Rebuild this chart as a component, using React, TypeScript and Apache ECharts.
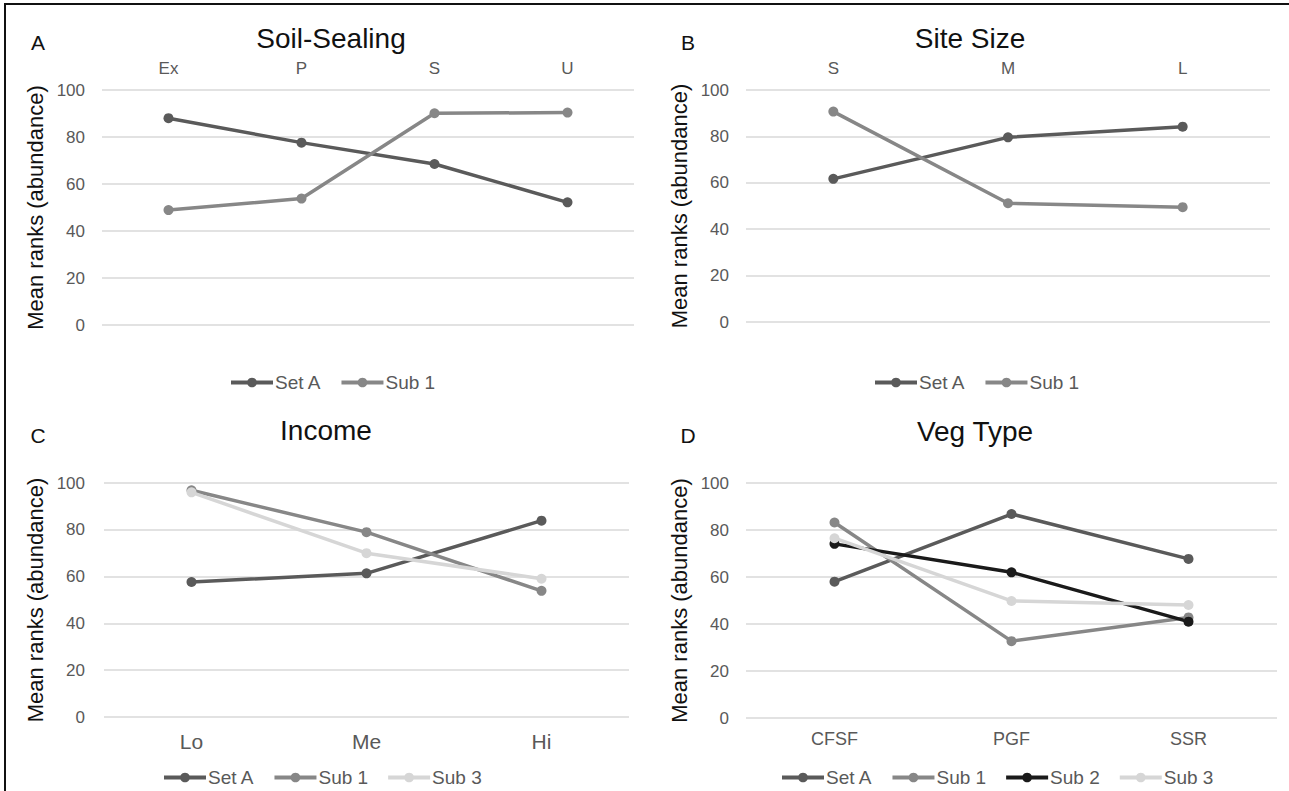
import React, { useEffect, useRef } from "react";
import * as echarts from "echarts";

const soilCats = ["Ex", "P", "S", "U"];
const soilSetA = [88, 77.6, 68.5, 52.2];
const soilSub1 = [48.9, 53.8, 90.1, 90.4];

const sizeCats = ["S", "M", "L"];
const sizeSetA = [61.7, 79.6, 84.2];
const sizeSub1 = [90.7, 51.2, 49.5];

const incomeCats = ["Lo", "Me", "Hi"];
const incomeSetA = [57.7, 61.4, 83.9];
const incomeSub1 = [96.9, 79, 53.9];
const incomeSub3 = [96, 70, 59.1];

const vegCats = ["CFSF", "PGF", "SSR"];
const vegSetA = [58, 86.8, 67.7];
const vegSub1 = [83.2, 32.7, 42.8];
const vegSub2 = [74.1, 62, 41];
const vegSub3 = [76.5, 49.8, 48.1];

const yTicks = { min: 0, max: 100, interval: 20 };

const COLORS: Record<string, string> = {
  "Set A": "#5a5a5a",
  "Sub 1": "#878787",
  "Sub 2": "#1a1a1a",
  "Sub 3": "#d6d6d6",
};

const FONT = "'Liberation Sans', Arial, sans-serif";

export default function App() {
  const ref = useRef<HTMLDivElement>(null);
  useEffect(() => {
    document.body.style.margin = "0";
    const chart = echarts.init(ref.current!, undefined, { renderer: "svg" });

    const grids = [
      { left: 102, top: 90, width: 532, height: 235 },
      { left: 746, top: 90, width: 524, height: 232 },
      { left: 104, top: 483, width: 525, height: 234 },
      { left: 746, top: 483, width: 531, height: 235 },
    ];
    const cats = [soilCats, sizeCats, incomeCats, vegCats];
    const xFont = [17, 17, 21, 18];
    const xMargin = [13, 13, 14, 12];

    const mkSeries = (name: string, data: number[], idx: number) => ({
      type: "line",
      name,
      data,
      xAxisIndex: idx,
      yAxisIndex: idx,
      symbol: "circle",
      symbolSize: 10,
      lineStyle: { width: 3.5, color: COLORS[name] },
      itemStyle: { color: COLORS[name] },
      z: 3,
    });

    const option: any = {
      animation: false,
      backgroundColor: "#ffffff",
      textStyle: { fontFamily: FONT },
      title: [
        { text: "Soil-Sealing", left: 326, top: 19, textAlign: "center" },
        { text: "Site Size", left: 965, top: 19, textAlign: "center" },
        { text: "Income", left: 321, top: 411, textAlign: "center" },
        { text: "Veg Type", left: 970, top: 412, textAlign: "center" },
      ].map((t) => ({
        ...t,
        textStyle: { fontSize: 28, fontWeight: "normal", color: "#111", fontFamily: FONT },
      })),
      grid: grids,
      xAxis: grids.map((_, i) => ({
        type: "category",
        gridIndex: i,
        data: cats[i],
        position: i < 2 ? "top" : "bottom",
        boundaryGap: true,
        axisLine: { show: false },
        axisTick: { show: false },
        axisLabel: { color: "#595959", fontSize: xFont[i], margin: xMargin[i], fontFamily: FONT },
        splitLine: { show: false },
      })),
      yAxis: grids.map((_, i) => ({
        type: "value",
        gridIndex: i,
        min: yTicks.min,
        max: yTicks.max,
        interval: yTicks.interval,
        name: "Mean ranks (abundance)",
        nameLocation: "middle",
        nameGap: i === 2 ? 58 : 56,
        nameTextStyle: { fontSize: 22, color: "#111", fontFamily: FONT },
        axisLine: { show: false },
        axisTick: { show: false },
        axisLabel: { color: "#595959", fontSize: 17, margin: i === 2 ? 19 : 17, fontFamily: FONT },
        splitLine: { lineStyle: { color: "#d9d9d9", width: 1.5 } },
      })),
      legend: [
        { data: ["Set A", "Sub 1"], left: 224, top: 368 },
        { data: ["Set A", "Sub 1"], left: 868, top: 368 },
        { data: ["Set A", "Sub 1", "Sub 3"], left: 157, top: 763 },
        { data: ["Set A", "Sub 1", "Sub 2", "Sub 3"], left: 775, top: 763 },
      ].map((l) => ({
        ...l,
        itemWidth: 42,
        itemHeight: 12,
        itemGap: 18,
        lineStyle: { width: 4 },
        textStyle: { fontSize: 19, color: "#595959", fontFamily: FONT, padding: [0, 0, 0, -3] },
        selectedMode: false,
      })),
      series: [
        mkSeries("Set A", soilSetA, 0),
        mkSeries("Sub 1", soilSub1, 0),
        mkSeries("Set A", sizeSetA, 1),
        mkSeries("Sub 1", sizeSub1, 1),
        mkSeries("Set A", incomeSetA, 2),
        mkSeries("Sub 1", incomeSub1, 2),
        mkSeries("Sub 3", incomeSub3, 2),
        mkSeries("Set A", vegSetA, 3),
        mkSeries("Sub 1", vegSub1, 3),
        mkSeries("Sub 2", vegSub2, 3),
        mkSeries("Sub 3", vegSub3, 3),
      ],
      graphic: [
        { type: "line", shape: { x1: 4, y1: 4, x2: 1289, y2: 4 }, style: { stroke: "#111", lineWidth: 2 } },
        { type: "line", shape: { x1: 5, y1: 4, x2: 5, y2: 791 }, style: { stroke: "#111", lineWidth: 2 } },
        ...[
          ["A", 38, 42],
          ["B", 688, 42],
          ["C", 38, 435],
          ["D", 688, 435],
        ].map(([t, x, y]) => ({
          type: "text",
          x: x as number,
          y: y as number,
          style: {
            text: t as string,
            fontSize: 21,
            fill: "#111",
            fontFamily: FONT,
            align: "center",
            verticalAlign: "middle",
          },
        })),
      ],
    };
    chart.setOption(option);
    return () => chart.dispose();
  }, []);
  return <div ref={ref} style={{ width: 1289, height: 791 }} />;
}
